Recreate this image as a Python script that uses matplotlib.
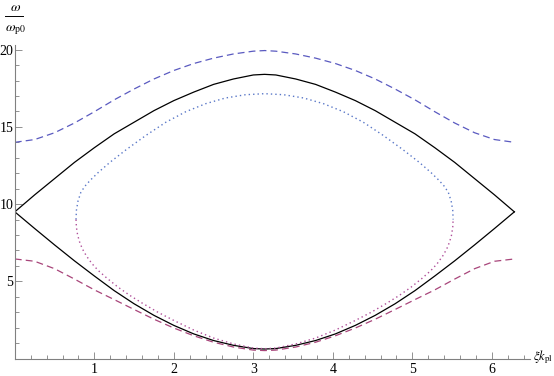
import numpy as np
import matplotlib.pyplot as plt
from matplotlib.lines import Line2D
from matplotlib.ticker import MultipleLocator, FixedLocator

# values (left half, 0 .. pi); curves are symmetric about pi
dash_x = [0, 0.25, 0.5, 0.75, 1.0, 1.25, 1.5, 1.75, 2.0, 2.25, 2.5, 2.75, 3.0, np.pi]
upper_dashed = [14.0, 14.18, 14.62, 15.25, 15.98, 16.75, 17.45, 18.1, 18.65, 19.1, 19.45, 19.72, 19.9, 19.94]
lower_dashed = [6.45, 6.3, 5.82, 5.15, 4.45, 3.82, 3.18, 2.55, 1.98, 1.48, 1.06, 0.75, 0.55, 0.52]
solid_upper = [9.5, 10.6, 11.65, 12.7, 13.65, 14.55, 15.3, 16.05, 16.7, 17.25, 17.75, 18.1, 18.36, 18.4]
solid_lower = [9.5, 8.42, 7.36, 6.33, 5.35, 4.4, 3.55, 2.8, 2.15, 1.6, 1.17, 0.86, 0.65, 0.62]

dot_up_x = [0.77, 0.775, 0.795, 0.83, 0.88, 0.95, 1.05, 1.2, 1.4, 1.65, 1.9, 2.15, 2.4, 2.65, 2.9, np.pi]
dot_up_y = [9.0, 9.6, 10.2, 10.75, 11.15, 11.55, 12.05, 12.72, 13.52, 14.45, 15.3, 15.98, 16.5, 16.87, 17.08, 17.15]
dot_lo_x = [0.77, 0.775, 0.79, 0.815, 0.85, 0.9, 0.97, 1.05, 1.16, 1.3, 1.45, 1.6, 1.8, 2.0, 2.25, 2.5, 2.75, 3.0, np.pi]
dot_lo_y = [9.0, 8.5, 8.0, 7.55, 7.1, 6.65, 6.15, 5.7, 5.2, 4.62, 4.08, 3.6, 3.0, 2.47, 1.85, 1.33, 0.95, 0.68, 0.64]

x_ticks = [1, 2, 3, 4, 5, 6]
y_ticks = [5, 10, 15, 20]

BLUE = '#5a5ac0'
RED = '#a8457a'
DOTBLUE = '#5a78c8'
DOTRED = '#b0509a'


def mirror(x, y):
    x = np.asarray(x, float)
    y = np.asarray(y, float)
    xf = np.concatenate([x, 2 * np.pi - x[::-1][1:]])
    yf = np.concatenate([y, y[::-1][1:]])
    return xf, yf


plt.rcParams['mathtext.fontset'] = 'stix'
fig = plt.figure(figsize=(5.54, 3.76), dpi=100)
ax = fig.add_axes([14.8 / 554, 1 - 358.6 / 376, (530 - 14.8) / 554, (358.6 - 45) / 376])

xs, ys = mirror(dash_x, upper_dashed)
ax.plot(xs, ys, color=BLUE, lw=0.9, dashes=(5.5, 3.3))
xs, ys = mirror(dash_x, lower_dashed)
ax.plot(xs, ys, color=RED, lw=0.9, dashes=(5.5, 3.3))
xs, ys = mirror(dash_x, solid_upper)
ax.plot(xs, ys, color='black', lw=0.9)
xs, ys = mirror(dash_x, solid_lower)
ax.plot(xs, ys, color='black', lw=0.9)
xs, ys = mirror(dot_up_x, dot_up_y)
ax.plot(xs, ys, color=DOTBLUE, lw=1.0, dashes=(1, 2.2))
xs, ys = mirror(dot_lo_x, dot_lo_y)
ax.plot(xs, ys, color=DOTRED, lw=1.0, dashes=(1, 2.2))

ax.set_xlim(0, 6.48)
ax.set_ylim(0, 20.3)
for s in ['top', 'right']:
    ax.spines[s].set_visible(False)
for s in ['left', 'bottom']:
    ax.spines[s].set_color('#808080')
    ax.spines[s].set_linewidth(0.8)

ax.xaxis.set_major_locator(FixedLocator(x_ticks))
ax.xaxis.set_minor_locator(MultipleLocator(0.2))
ax.yaxis.set_major_locator(FixedLocator(y_ticks))
ax.yaxis.set_minor_locator(MultipleLocator(1))
ax.tick_params(which='both', direction='in', color='#808080', width=0.6)
ax.tick_params(which='major', length=5, labelsize=10)
ax.tick_params(which='minor', length=3)
ax.tick_params(axis='x', which='major', pad=3)
ax.tick_params(axis='y', which='major', pad=1)
for lab in ax.get_xticklabels() + ax.get_yticklabels():
    lab.set_family('Liberation Serif')

# y label as a stacked fraction: omega over omega_p0
fig.text(16 / 554, 1 - 7 / 376, r'$\omega$', fontsize=10, ha='center', va='center')
fig.add_artist(Line2D([5 / 554, 23 / 554], [1 - 16 / 376, 1 - 16 / 376],
                      color='black', lw=0.7))
fig.text(15 / 554, 1 - 30 / 376, r'$\omega_{\mathrm{p0}}$', fontsize=10,
         ha='center', va='center')
fig.text(533 / 554, 1 - 357 / 376, r'$\xi k_{\mathrm{pl}}$', fontsize=9,
         ha='left', va='center')

fig.savefig('out.png', dpi=100)
